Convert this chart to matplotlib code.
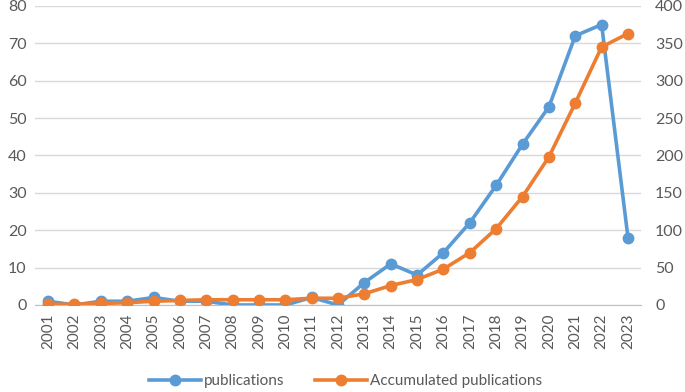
import matplotlib
matplotlib.use("Agg")
import matplotlib.pyplot as plt

years = [str(y) for y in range(2001, 2024)]
publications = [1, 0, 1, 1, 2, 1, 1, 0, 0, 0, 2, 0, 6, 11, 8, 14, 22, 32, 43, 53, 72, 75, 18]
accumulated = [1, 1, 2, 3, 5, 6, 7, 7, 7, 7, 9, 9, 15, 26, 34, 48, 70, 102, 145, 198, 270, 345, 363]
left_ticks = [0, 10, 20, 30, 40, 50, 60, 70, 80]
right_ticks = [0, 50, 100, 150, 200, 250, 300, 350, 400]

plt.rcParams['font.family'] = ['Lato', 'DejaVu Sans']
tc = '#595959'
blue = '#5B9BD5'
orange = '#ED7D31'

fig = plt.figure(figsize=(6.85, 3.92), dpi=100)
ax = fig.add_axes([0.051, 0.222, 0.885, 0.763])
ax2 = ax.twinx()

x = list(range(len(years)))
l1, = ax.plot(x, publications, color=blue, lw=2.6, marker='o', ms=7.5, label='publications')
l2, = ax2.plot(x, accumulated, color=orange, lw=2.6, marker='o', ms=7.5, label='Accumulated publications')

ax.set_xlim(-0.5, len(years) - 0.5)
ax.set_ylim(0, 80)
ax2.set_ylim(0, 400)
ax.set_yticks(left_ticks)
ax2.set_yticks(right_ticks)
ax.set_xticks(x)
ax.set_xticklabels(years, rotation=90)
ax.grid(axis='y', color='#D9D9D9', lw=1)
ax.set_axisbelow(True)
for a in (ax, ax2):
    for s in a.spines.values():
        s.set_visible(False)
    a.tick_params(length=0, colors=tc, labelsize=11.5)
ax.tick_params(axis='x', labelsize=11)
ax.spines['bottom'].set_visible(True)
ax.spines['bottom'].set_color('#BFBFBF')
ax.tick_params(axis='y', pad=6)
ax2.tick_params(axis='y', pad=10)
ax.tick_params(axis='x', pad=6)

leg = fig.legend(handles=[l1, l2], loc='center', bbox_to_anchor=(0.504, 0.028), ncol=2,
                 frameon=False, fontsize=11, handlelength=3.4, columnspacing=2.0, handletextpad=0.2)
for t in leg.get_texts():
    t.set_color(tc)

fig.savefig('out.png', dpi=100)
